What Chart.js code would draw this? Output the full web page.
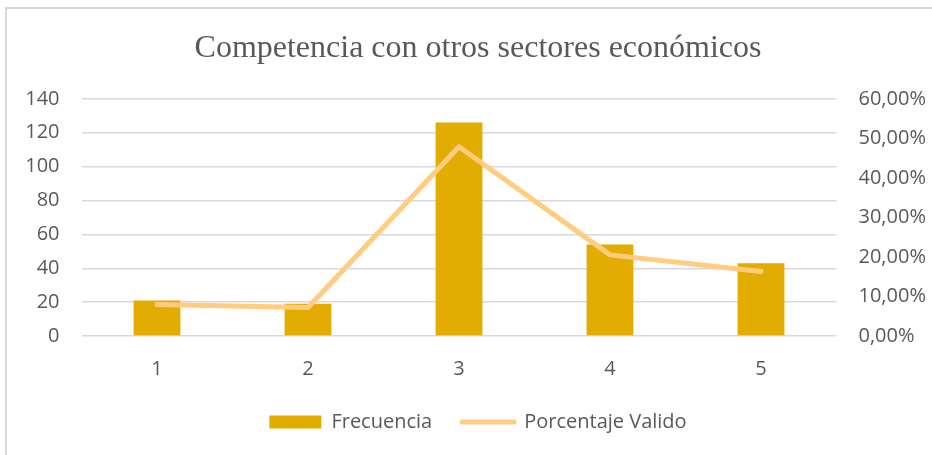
<!DOCTYPE html>
<html>
<head>
<meta charset="utf-8">
<script src="https://cdn.jsdelivr.net/npm/chart.js@4/dist/chart.umd.min.js"></script>
<style>
    html, body { margin: 0; padding: 0; background: #fff; }
    #wrap { position: relative; width: 932px; height: 455px; }
    #frame {
        position: absolute; left: 5px; top: 7px; width: 940px; height: 460px;
        border: 2px solid #d9d9d9; box-sizing: border-box;
    }
    canvas { position: absolute; left: 0; top: 0; }
</style>
</head>
<body>
<div id="wrap">
    <div id="frame"></div>
    <canvas id="competenciaChart" width="932" height="455"></canvas>
</div>
<script>
// Data
const categories = ['1', '2', '3', '4', '5'];
const frecuencia = [21, 19, 126, 54, 43];
const porcentajeValido = [0.0798, 0.0722, 0.4791, 0.2053, 0.1635];
const leftTicks = [0, 20, 40, 60, 80, 100, 120, 140];
const rightTicks = [0, 0.1, 0.2, 0.3, 0.4, 0.5, 0.6];

const textColor = '#595959';
const gridColor = '#d9d9d9';
const sansFont = "'Open Sans', sans-serif";

function formatPercent(value) {
    return (value * 100).toFixed(2).replace('.', ',') + '%';
}

const ctx = document.getElementById('competenciaChart');

new Chart(ctx, {
    type: 'bar',
    data: {
        labels: categories,
        datasets: [{
            type: 'line',
            label: 'Porcentaje Valido',
            data: porcentajeValido,
            yAxisID: 'y1',
            borderColor: '#ffcc80',
            backgroundColor: '#ffcc80',
            borderWidth: 5,
            borderCapStyle: 'round',
            borderJoinStyle: 'round',
            pointRadius: 0,
            pointHoverRadius: 0,
            pointStyle: 'line',
            tension: 0,
            order: 1
        }, {
            label: 'Frecuencia',
            data: frecuencia,
            yAxisID: 'y',
            backgroundColor: '#e2ac00',
            borderWidth: 0,
            categoryPercentage: 0.62,
            barPercentage: 0.5,
            order: 2
        }]
    },
    options: {
        responsive: false,
        animation: false,
        layout: {
            padding: { left: 24, right: 0, top: 8, bottom: 13 }
        },
        plugins: {
            title: {
                display: true,
                text: 'Competencia con otros sectores económicos',
                color: textColor,
                font: { family: "'Liberation Serif', 'Times New Roman', serif", size: 32, weight: 'normal' },
                padding: { top: 21, bottom: 31.5 }
            },
            legend: {
                position: 'bottom',
                reverse: true,
                labels: {
                    color: textColor,
                    font: { family: sansFont, size: 20 },
                    usePointStyle: true,
                    pointStyleWidth: 52,
                    boxHeight: 13,
                    padding: 30,
                    generateLabels: function (chart) {
                        const items = Chart.defaults.plugins.legend.labels.generateLabels(chart);
                        items.forEach(item => {
                            if (item.datasetIndex === 0) {
                                item.pointStyle = 'line';
                                item.lineWidth = 5;
                                item.lineCap = 'round';
                                item.strokeStyle = '#ffcc80';
                            } else {
                                item.pointStyle = 'rect';
                                item.lineWidth = 0;
                            }
                        });
                        return items;
                    }
                }
            },
            tooltip: { enabled: false }
        },
        scales: {
            x: {
                afterFit: function (scale) {
                    scale.height = 46;
                },
                grid: { display: false, drawTicks: false },
                border: { display: false },
                ticks: {
                    color: textColor,
                    font: { family: sansFont, size: 20 },
                    padding: 21
                }
            },
            y: {
                position: 'left',
                min: 0,
                max: 140,
                afterBuildTicks: function (scale) {
                    scale.ticks = leftTicks.map(v => ({ value: v }));
                },
                afterFit: function (scale) {
                    scale.width = 57.5;
                },
                grid: { color: gridColor, lineWidth: 1.5, drawTicks: false },
                border: { display: false },
                ticks: {
                    color: textColor,
                    font: { family: sansFont, size: 20 },
                    padding: 22
                }
            },
            y1: {
                position: 'right',
                min: 0,
                max: 0.6,
                afterBuildTicks: function (scale) {
                    scale.ticks = rightTicks.map(v => ({ value: v }));
                },
                afterFit: function (scale) {
                    scale.width = 95.5;
                },
                grid: { display: false, drawTicks: false },
                border: { display: false },
                ticks: {
                    color: textColor,
                    font: { family: sansFont, size: 20 },
                    padding: 22,
                    callback: function (value) {
                        return formatPercent(value);
                    }
                }
            }
        }
    }
});
</script>
</body>
</html>
